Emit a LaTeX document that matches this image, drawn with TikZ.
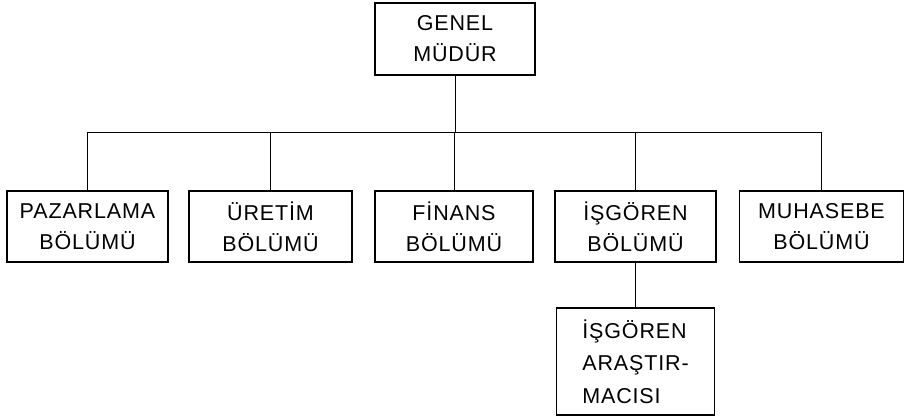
\documentclass[tikz,border=0pt]{standalone}
\usepackage{fontspec}
\setmainfont{Liberation Sans}[LetterSpace=4]
\begin{document}
\begin{tikzpicture}[x=1pt,y=-1pt,
  box/.style={draw, line width=1.2pt, inner sep=0pt, align=center,
    font=\fontsize{21.5}{31}\selectfont},
  link/.style={line width=1pt}]
\useasboundingbox (0,0) rectangle (905,420);
\node[box, minimum width=160pt, minimum height=72pt] (g) at (455,39) {GENEL\\MÜDÜR};
\node[box, minimum width=161pt, minimum height=71pt] (p) at (87.5,226.5) {PAZARLAMA\\BÖLÜMÜ};
\node[box, minimum width=163pt, minimum height=71pt] (u) at (270.5,226.5) {ÜRETİM\\BÖLÜMÜ};
\node[box, minimum width=158pt, minimum height=71pt] (f) at (454,226.5) {FİNANS\\BÖLÜMÜ};
\node[box, minimum width=161pt, minimum height=71pt] (i) at (635.5,226.5) {İŞGÖREN\\BÖLÜMÜ};
\node[box, minimum width=164pt, minimum height=71pt] (m) at (821.5,226.5) {MUHASEBE\\BÖLÜMÜ};
\node[box, align=left, font=\fontsize{21.5}{32.5}\selectfont, minimum width=158pt, minimum height=107pt] (a) at (635.5,361.5) {İŞGÖREN\\ARAŞTIR-\\MACISI};
\coordinate (bl) at (87.5,132);
\coordinate (br) at (821.5,132);
\draw[link] (bl) -- (br);
\draw[link] (g.south) -- (g.south |- bl);
\foreach \n in {p,u,f,i,m} \draw[link] (\n.north) -- (\n.north |- bl);
\draw[link] (i.south) -- (a.north);
\end{tikzpicture}
\end{document}
